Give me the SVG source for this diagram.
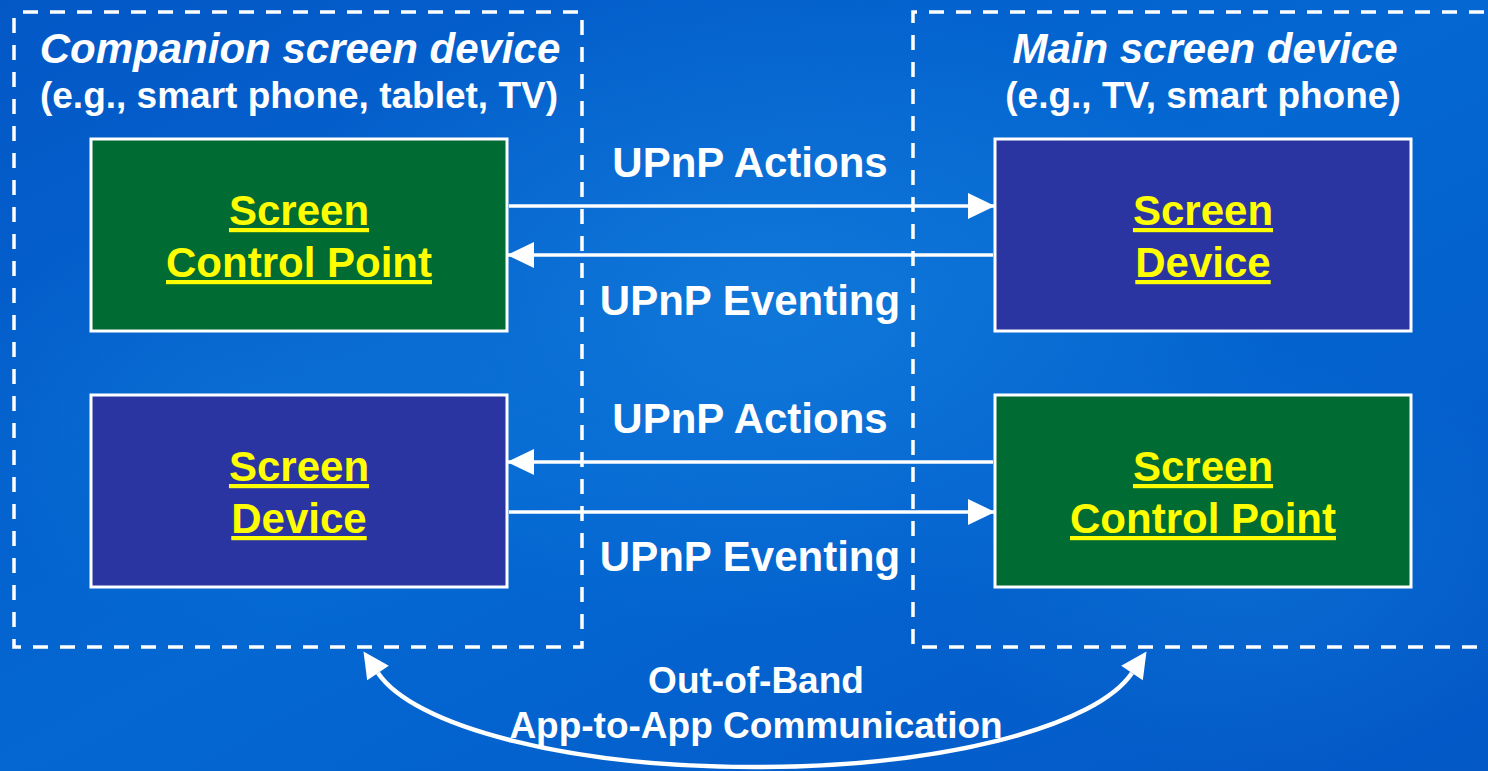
<svg xmlns="http://www.w3.org/2000/svg" width="1488" height="771" viewBox="0 0 1488 771">
  <defs>
    <linearGradient id="bg" x1="0" y1="0" x2="1" y2="1">
      <stop offset="0" stop-color="#0358C6"/>
      <stop offset="0.5" stop-color="#0467D2"/>
      <stop offset="1" stop-color="#0358C6"/>
    </linearGradient>
    <radialGradient id="glow" cx="0.5" cy="0.5" r="0.5">
      <stop offset="0" stop-color="#1A86E0" stop-opacity="0.55"/>
      <stop offset="1" stop-color="#1A86E0" stop-opacity="0"/>
    </radialGradient>
    <marker id="head" markerUnits="userSpaceOnUse" markerWidth="27" markerHeight="26" refX="26" refY="13" orient="auto">
      <path d="M0,0 L27,13 L0,26 Z" fill="#FFFFFF"/>
    </marker>
    <style>
      .frame { fill: none; stroke: #FFFFFF; stroke-width: 3.5; stroke-dasharray: 15 12; stroke-dashoffset: 18; }
      .title { font-family: "Liberation Sans", Arial, sans-serif; font-weight: bold; font-style: italic; font-size: 42px; fill: #FFFFFF; text-anchor: middle; }
      .sub { font-family: "Liberation Sans", Arial, sans-serif; font-weight: bold; font-size: 37px; fill: #FFFFFF; text-anchor: middle; }
      .lbl { font-family: "Liberation Sans", Arial, sans-serif; font-weight: bold; font-size: 42px; fill: #FFFFFF; text-anchor: middle; }
      .box { stroke: #FFFFFF; stroke-width: 3; }
      .cp { fill: #006B33; }
      .dev { fill: #2B35A2; }
      .name { font-family: "Liberation Sans", Arial, sans-serif; font-weight: bold; font-size: 42px; fill: #FFFF00; text-anchor: middle; text-decoration: underline; }
      .link { stroke: #FFFFFF; stroke-width: 3.5; fill: none; }
    </style>
  </defs>

  <!-- backdrop -->
  <rect x="0" y="0" width="1488" height="771" fill="url(#bg)"/>
  <ellipse cx="760" cy="300" rx="520" ry="330" fill="url(#glow)"/>
  <ellipse cx="250" cy="420" rx="300" ry="220" fill="url(#glow)" opacity="0.6"/>
  <ellipse cx="1250" cy="560" rx="320" ry="220" fill="url(#glow)" opacity="0.5"/>

  <!-- device frames -->
  <g id="companion-device">
    <rect class="frame" x="14" y="12" width="568" height="635"/>
    <text class="title" x="300" y="63">Companion screen device</text>
    <text class="sub" x="299" y="108">(e.g., smart phone, tablet, TV)</text>
  </g>
  <g id="main-device">
    <path class="frame" d="M1520,12 H913 V647 H1520"/>
    <text class="title" x="1205" y="63">Main screen device</text>
    <text class="sub" x="1203" y="108">(e.g., TV, smart phone)</text>
  </g>

  <!-- functional blocks -->
  <g id="companion-control-point">
    <rect class="box cp" x="91" y="139" width="416" height="192"/>
    <text class="name" x="299" y="225">Screen</text>
    <text class="name" x="299" y="277">Control Point</text>
  </g>
  <g id="main-screen-device">
    <rect class="box dev" x="995" y="139" width="416" height="192"/>
    <text class="name" x="1203" y="225">Screen</text>
    <text class="name" x="1203" y="277">Device</text>
  </g>
  <g id="companion-screen-device">
    <rect class="box dev" x="91" y="395" width="416" height="192"/>
    <text class="name" x="299" y="481">Screen</text>
    <text class="name" x="299" y="533">Device</text>
  </g>
  <g id="main-control-point">
    <rect class="box cp" x="995" y="395" width="416" height="192"/>
    <text class="name" x="1203" y="481">Screen</text>
    <text class="name" x="1203" y="533">Control Point</text>
  </g>

  <!-- connectors -->
  <g id="connectors">
    <line class="link" x1="509" y1="206" x2="994" y2="206" marker-end="url(#head)"/>
    <line class="link" x1="993" y1="255" x2="508" y2="255" marker-end="url(#head)"/>
    <line class="link" x1="993" y1="462" x2="508" y2="462" marker-end="url(#head)"/>
    <line class="link" x1="509" y1="512" x2="994" y2="512" marker-end="url(#head)"/>
    <path d="M378,673 A385,118 0 0 0 1132,673" fill="none" stroke="#FFFFFF" stroke-width="4.5"/>
    <polygon points="363.5,651.5 388.8,665.7 367.2,680.3" fill="#FFFFFF"/>
    <polygon points="1146.5,651.5 1121.2,665.7 1142.8,680.3" fill="#FFFFFF"/>
    <text class="lbl" x="750" y="177">UPnP Actions</text>
    <text class="lbl" x="750" y="315">UPnP Eventing</text>
    <text class="lbl" x="750" y="433">UPnP Actions</text>
    <text class="lbl" x="750" y="571">UPnP Eventing</text>
    <text class="sub" x="756" y="693">Out-of-Band</text>
    <text class="sub" x="756" y="738">App-to-App Communication</text>
  </g>
</svg>
